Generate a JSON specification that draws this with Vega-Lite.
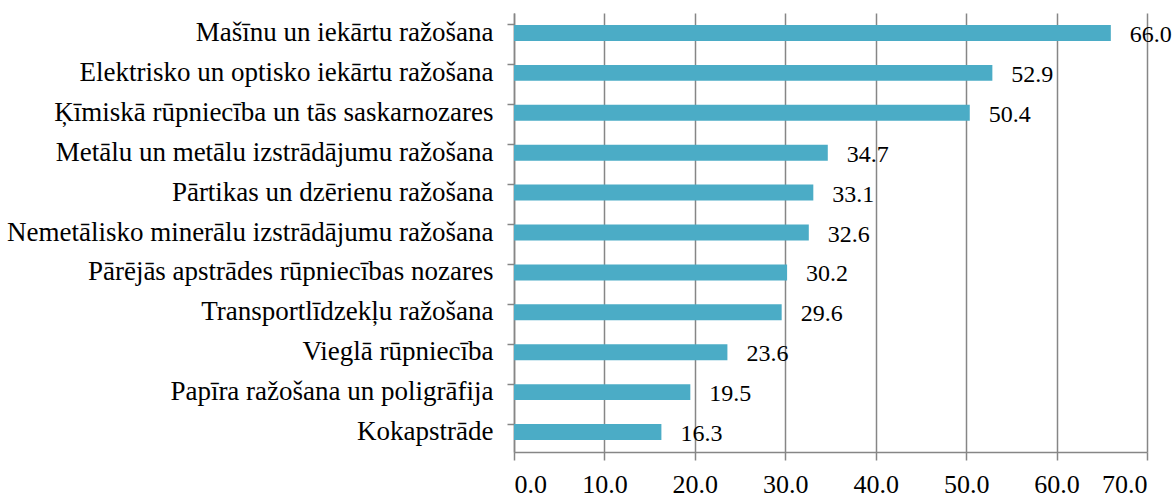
{
  "$schema": "https://vega.github.io/schema/vega-lite/v6.json",
  "width": 633,
  "height": 439,
  "autosize": {"type": "none"},
  "padding": {"left": 514, "top": 13, "right": 27, "bottom": 46},
  "background": "white",
  "config": {
    "view": {"stroke": null},
    "font": "Liberation Serif"
  },
  "data": {
    "values": [
      {"nozare": "Mašīnu un iekārtu ražošana", "v": 66.0},
      {"nozare": "Elektrisko un optisko iekārtu ražošana", "v": 52.9},
      {"nozare": "Ķīmiskā rūpniecība un tās saskarnozares", "v": 50.4},
      {"nozare": "Metālu un metālu izstrādājumu ražošana", "v": 34.7},
      {"nozare": "Pārtikas un dzērienu ražošana", "v": 33.1},
      {"nozare": "Nemetālisko minerālu izstrādājumu ražošana", "v": 32.6},
      {"nozare": "Pārējās apstrādes rūpniecības nozares", "v": 30.2},
      {"nozare": "Transportlīdzekļu ražošana", "v": 29.6},
      {"nozare": "Vieglā rūpniecība", "v": 23.6},
      {"nozare": "Papīra ražošana un poligrāfija", "v": 19.5},
      {"nozare": "Kokapstrāde", "v": 16.3}
    ]
  },
  "encoding": {
    "y": {
      "field": "nozare", "type": "nominal", "sort": null,
      "scale": {"paddingInner": 0.6, "paddingOuter": 0.3},
      "axis": {
        "title": null, "bandPosition": 0, "grid": false,
        "domainColor": "#868686", "domainWidth": 1.5,
        "tickColor": "#868686", "tickWidth": 1.5, "tickSize": 7,
        "labelFont": "Liberation Serif", "labelFontSize": 27, "labelColor": "#000000",
        "labelPadding": 14, "labelLimit": 600
      }
    },
    "x": {
      "field": "v", "type": "quantitative",
      "scale": {"domain": [0, 70], "nice": false},
      "axis": {
        "title": null, "values": [0, 10, 20, 30, 40, 50, 60, 70], "format": ".1f",
        "grid": true, "gridColor": "#868686", "gridWidth": 1.5,
        "domainColor": "#868686", "domainWidth": 1.5,
        "tickColor": "#868686", "tickWidth": 1.5, "tickSize": 8,
        "labelFont": "Liberation Serif", "labelFontSize": 26, "labelColor": "#000000",
        "labelPadding": 11
      }
    }
  },
  "layer": [
    {"mark": {"type": "bar", "color": "#4BACC6"}},
    {
      "mark": {"type": "text", "align": "left", "dx": 19, "font": "Liberation Serif", "fontSize": 24, "color": "#000000", "baseline": "middle", "dy": 2},
      "encoding": {"text": {"field": "v", "type": "quantitative", "format": ".1f"}}
    }
  ]
}
